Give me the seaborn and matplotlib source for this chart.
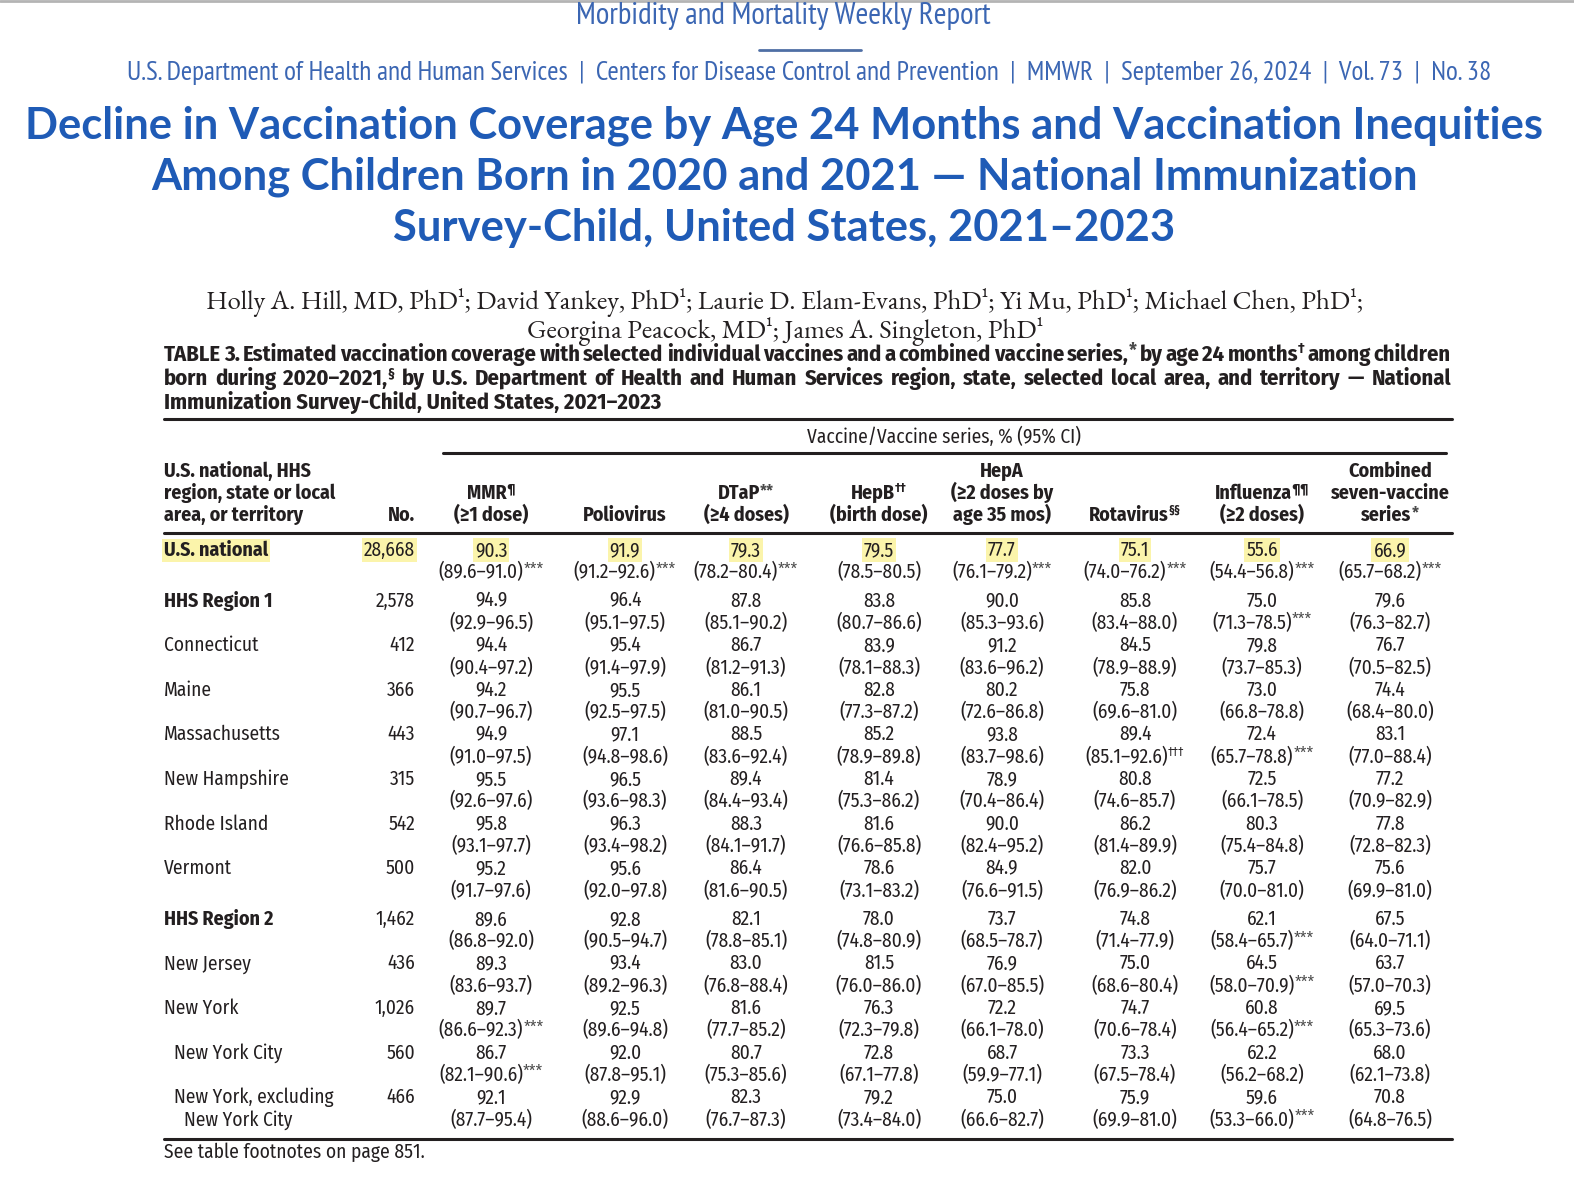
import re
import matplotlib
matplotlib.use("Agg")
import matplotlib.pyplot as plt
import seaborn as sns

# ---------------- data ----------------
areas = ["U.S. national", "HHS Region 1", "Connecticut", "Maine", "Massachusetts",
         "New Hampshire", "Rhode Island", "Vermont", "HHS Region 2", "New Jersey",
         "New York", "New York City", "New York, excluding"]
area_line2 = {12: "New York City"}
bold_rows = [0, 1, 8]
indented_rows = [11, 12]
sample_sizes = ["28,668", "2,578", "412", "366", "443", "315", "542", "500",
                "1,462", "436", "1,026", "560", "466"]

mmr = [90.3, 94.9, 94.4, 94.2, 94.9, 95.5, 95.8, 95.2, 89.6, 89.3, 89.7, 86.7, 92.1]
mmr_ci = [(89.6, 91.0), (92.9, 96.5), (90.4, 97.2), (90.7, 96.7), (91.0, 97.5), (92.6, 97.6),
          (93.1, 97.7), (91.7, 97.6), (86.8, 92.0), (83.6, 93.7), (86.6, 92.3), (82.1, 90.6), (87.7, 95.4)]
polio = [91.9, 96.4, 95.4, 95.5, 97.1, 96.5, 96.3, 95.6, 92.8, 93.4, 92.5, 92.0, 92.9]
polio_ci = [(91.2, 92.6), (95.1, 97.5), (91.4, 97.9), (92.5, 97.5), (94.8, 98.6), (93.6, 98.3),
            (93.4, 98.2), (92.0, 97.8), (90.5, 94.7), (89.2, 96.3), (89.6, 94.8), (87.8, 95.1), (88.6, 96.0)]
dtap = [79.3, 87.8, 86.7, 86.1, 88.5, 89.4, 88.3, 86.4, 82.1, 83.0, 81.6, 80.7, 82.3]
dtap_ci = [(78.2, 80.4), (85.1, 90.2), (81.2, 91.3), (81.0, 90.5), (83.6, 92.4), (84.4, 93.4),
           (84.1, 91.7), (81.6, 90.5), (78.8, 85.1), (76.8, 88.4), (77.7, 85.2), (75.3, 85.6), (76.7, 87.3)]
hepb = [79.5, 83.8, 83.9, 82.8, 85.2, 81.4, 81.6, 78.6, 78.0, 81.5, 76.3, 72.8, 79.2]
hepb_ci = [(78.5, 80.5), (80.7, 86.6), (78.1, 88.3), (77.3, 87.2), (78.9, 89.8), (75.3, 86.2),
           (76.6, 85.8), (73.1, 83.2), (74.8, 80.9), (76.0, 86.0), (72.3, 79.8), (67.1, 77.8), (73.4, 84.0)]
hepa = [77.7, 90.0, 91.2, 80.2, 93.8, 78.9, 90.0, 84.9, 73.7, 76.9, 72.2, 68.7, 75.0]
hepa_ci = [(76.1, 79.2), (85.3, 93.6), (83.6, 96.2), (72.6, 86.8), (83.7, 98.6), (70.4, 86.4),
           (82.4, 95.2), (76.6, 91.5), (68.5, 78.7), (67.0, 85.5), (66.1, 78.0), (59.9, 77.1), (66.6, 82.7)]
rota = [75.1, 85.8, 84.5, 75.8, 89.4, 80.8, 86.2, 82.0, 74.8, 75.0, 74.7, 73.3, 75.9]
rota_ci = [(74.0, 76.2), (83.4, 88.0), (78.9, 88.9), (69.6, 81.0), (85.1, 92.6), (74.6, 85.7),
           (81.4, 89.9), (76.9, 86.2), (71.4, 77.9), (68.6, 80.4), (70.6, 78.4), (67.5, 78.4), (69.9, 81.0)]
flu = [55.6, 75.0, 79.8, 73.0, 72.4, 72.5, 80.3, 75.7, 62.1, 64.5, 60.8, 62.2, 59.6]
flu_ci = [(54.4, 56.8), (71.3, 78.5), (73.7, 85.3), (66.8, 78.8), (65.7, 78.8), (66.1, 78.5),
          (75.4, 84.8), (70.0, 81.0), (58.4, 65.7), (58.0, 70.9), (56.4, 65.2), (56.2, 68.2), (53.3, 66.0)]
combined = [66.9, 79.6, 76.7, 74.4, 83.1, 77.2, 77.8, 75.6, 67.5, 63.7, 69.5, 68.0, 70.8]
combined_ci = [(65.7, 68.2), (76.3, 82.7), (70.5, 82.5), (68.4, 80.0), (77.0, 88.4), (70.9, 82.9),
               (72.8, 82.3), (69.9, 81.0), (64.0, 71.1), (57.0, 70.3), (65.3, 73.6), (62.1, 73.8), (64.8, 76.5)]

# (row, column) -> footnote mark after the CI
ci_marks = {(0, 0): "***", (0, 1): "***", (0, 2): "***", (0, 4): "***", (0, 5): "***",
            (0, 6): "***", (0, 7): "***", (1, 6): "***", (4, 5): "†††", (4, 6): "***",
            (8, 6): "***", (9, 6): "***", (10, 0): "***", (10, 6): "***", (11, 0): "***",
            (12, 6): "***"}

col_headers = [["", "MMR^{¶}", "(≥1 dose)"],
               ["", "", "Poliovirus"],
               ["", "DTaP^{**}", "(≥4 doses)"],
               ["", "HepB^{††}", "(birth dose)"],
               ["HepA", "(≥2 doses by", "age 35 mos)"],
               ["", "", "Rotavirus^{§§}"],
               ["", "Influenza^{¶¶}", "(≥2 doses)"],
               ["Combined", "seven-vaccine", "series^{*}"]]

estimates = [mmr, polio, dtap, hepb, hepa, rota, flu, combined]
intervals = [mmr_ci, polio_ci, dtap_ci, hepb_ci, hepa_ci, rota_ci, flu_ci, combined_ci]

# ---------------- style ----------------
sns.set_theme(style="white")
NARROW = ["Fira Sans Condensed", "PT Sans Narrow", "Liberation Sans Narrow", "DejaVu Sans"]
MAST = ["PT Sans Narrow", "Liberation Sans Narrow", "DejaVu Sans"]
TITLE_FONT = ["Lato", "DejaVu Sans"]
SERIF = ["EB Garamond", "Liberation Serif", "DejaVu Serif"]
plt.rcParams["font.family"] = NARROW
BLUE_HEAD = "#3b66b3"
BLUE_TITLE = "#1f5bb6"
INK = "#231f20"
HILITE = "#fbf4ab"

fig = plt.figure(figsize=(15.74, 12), dpi=100)
ax = fig.add_axes([0, 0, 1, 1])
ax.set_xlim(0, 1574)
ax.set_ylim(1200, 0)
ax.axis("off")
renderer = fig.canvas.get_renderer()


def width_of(t):
    return t.get_window_extent(renderer).width


def fit_size(s, target, **kw):
    t = ax.text(0, 0, s, fontsize=20, **kw)
    w = width_of(t)
    t.remove()
    return 20 * target / w


def rich(x, y, s, size, ha="left", color=INK, bbox=None, **kw):
    """Text with ^{...} superscripts, placed on a baseline; returns the pieces."""
    chunks = re.split(r"\^\{(.*?)\}", s)
    items = []
    for k, c in enumerate(chunks):
        if not c:
            continue
        if k % 2 == 1 and set(c) == {"*"}:
            fs, yy, col = size * 0.85, y - size * 0.28, "#4a4a4a"
        elif k % 2 == 1:
            fs, yy, col = size * 0.62, y - size * 0.5, color
        else:
            fs, yy, col = size, y, color
        items.append(ax.text(0, yy, c, fontsize=fs, va="baseline", ha="left", color=col, **kw))
    widths = [width_of(t) for t in items]
    total = sum(widths)
    x0 = {"left": x, "center": x - total / 2, "right": x - total}[ha]
    for t, w in zip(items, widths):
        t.set_x(x0)
        x0 += w
    if bbox is not None and items:
        items[0].set_bbox(bbox)
    return items, total


def justified(line, x0, x1, y, size, **kw):
    words = line.split(" ")
    placed = [rich(0, y, w, size, **kw) for w in words]
    gap = (x1 - x0 - sum(p[1] for p in placed)) / (len(words) - 1)
    x = x0
    for items, w in placed:
        shift = x - items[0].get_position()[0]
        for t in items:
            t.set_x(t.get_position()[0] + shift)
        x += w + gap


# masthead
ax.plot([0, 1574], [1, 1], color="#b4b4b4", lw=2)
m1 = "Morbidity and Mortality Weekly Report"
ax.text(783, 16, m1, ha="center", va="center", color=BLUE_HEAD, family=MAST,
        fontsize=fit_size(m1, 414, family=MAST))
ax.plot([759, 861], [50, 50], color="#4f6fa5", lw=2)
m2 = ("U.S. Department of Health and Human Services  |  Centers for Disease Control and Prevention"
      "  |  MMWR  |  September 26, 2024  |  Vol. 73  |  No. 38")
ax.text(809, 73, m2, ha="center", va="center", color=BLUE_HEAD, family=MAST,
        fontsize=fit_size(m2, 1365, family=MAST))

title_lines = ["Decline in Vaccination Coverage by Age 24 Months and Vaccination Inequities",
               "Among Children Born in 2020 and 2021 — National Immunization",
               "Survey-Child, United States, 2021–2023"]
tsize = fit_size(title_lines[0], 1516, fontweight="bold", family=TITLE_FONT)
for i, line in enumerate(title_lines):
    ax.text(784, 126 + i * 51, line, ha="center", va="center", fontsize=tsize,
            fontweight="bold", family=TITLE_FONT, color=BLUE_TITLE)

a1 = "Holly A. Hill, MD, PhD¹; David Yankey, PhD¹; Laurie D. Elam-Evans, PhD¹; Yi Mu, PhD¹; Michael Chen, PhD¹;"
a2 = "Georgina Peacock, MD¹; James A. Singleton, PhD¹"
asize = fit_size(a1, 1156, family=SERIF)
ax.text(785, 309, a1, ha="center", va="baseline", fontsize=asize, family=SERIF, color=INK)
ax.text(785, 338, a2, ha="center", va="baseline", fontsize=asize, family=SERIF, color=INK)

# table caption
cap3 = "Immunization Survey-Child, United States, 2021–2023"
csize = fit_size(cap3, 498, fontweight="bold")
justified("TABLE 3. Estimated vaccination coverage with selected individual vaccines and a combined "
          "vaccine series,^{*} by age 24 months^{†} among children", 164, 1451, 361, csize,
          fontweight="bold")
justified("born during 2020–2021,^{§} by U.S. Department of Health and Human Services region, "
          "state, selected local area, and territory — National", 164, 1451, 385, csize,
          fontweight="bold")
ax.text(164, 409, cap3, va="baseline", fontsize=csize, fontweight="bold", color=INK)

# rules
TL, TR = 164, 1452
ax.plot([TL, TR], [419, 419], color=INK, lw=2.2)
ax.plot([443, 1446], [453, 453], color=INK, lw=2.2)
ax.plot([TL, TR], [533, 533], color=INK, lw=2.2)
ax.plot([TL, TR], [1139, 1139], color=INK, lw=2.2)

body_fs = fit_size("(89.6–91.0)", 85)
head_fs = fit_size("U.S. national, HHS", 147, fontweight="bold")

ax.text(944, 443, "Vaccine/Vaccine series, % (95% CI)", ha="center", va="baseline",
        fontsize=body_fs, color=INK)

# column headings
col_x = [491, 625, 746, 879, 1002, 1135, 1262, 1390]
head_y = [477, 499, 521]
for j, line in enumerate(["U.S. national, HHS", "region, state or local", "area, or territory"]):
    ax.text(TL, head_y[j], line, va="baseline", fontsize=head_fs, fontweight="bold", color=INK)
ax.text(415, head_y[2], "No.", ha="right", va="baseline", fontsize=head_fs,
        fontweight="bold", color=INK)
for cx, lines in zip(col_x, col_headers):
    for j, line in enumerate(lines):
        if line:
            rich(cx, head_y[j], line, head_fs, ha="center", fontweight="bold")

# body rows
row_y = [556 + i * 44.6 + (6 if i >= 1 else 0) + (6 if i >= 8 else 0) for i in range(len(areas))]

for i, area in enumerate(areas):
    y = row_y[i]
    hl = dict(facecolor=HILITE, edgecolor="none", pad=1.5) if i == 0 else None
    weight = "bold" if i in bold_rows else "normal"
    fs = head_fs if i in bold_rows else body_fs
    lx = TL + (10 if i in indented_rows else 0)
    ax.text(lx, y, area, va="baseline", fontsize=fs, fontweight=weight, color=INK, bbox=hl)
    if i in area_line2:
        ax.text(lx + 10, y + 22.5, area_line2[i], va="baseline", fontsize=body_fs, color=INK)
    ax.text(415, y, sample_sizes[i], ha="right", va="baseline", fontsize=body_fs,
            color=INK, bbox=hl)
    for j, cx in enumerate(col_x):
        ax.text(cx, y, f"{estimates[j][i]:.1f}", ha="center", va="baseline",
                fontsize=body_fs, color=INK, bbox=hl)
        lo, hi = intervals[j][i]
        mark = ci_marks.get((i, j), "")
        ci = f"({lo:.1f}–{hi:.1f})" + (f"^{{{mark}}}" if mark else "")
        rich(cx, y + 22.5, ci, body_fs, ha="center")

ax.text(TL, 1158, "See table footnotes on page 851.", va="baseline",
        fontsize=fit_size("See table footnotes on page 851.", 260), color=INK)

fig.savefig("out.png", dpi=100, facecolor="white")
